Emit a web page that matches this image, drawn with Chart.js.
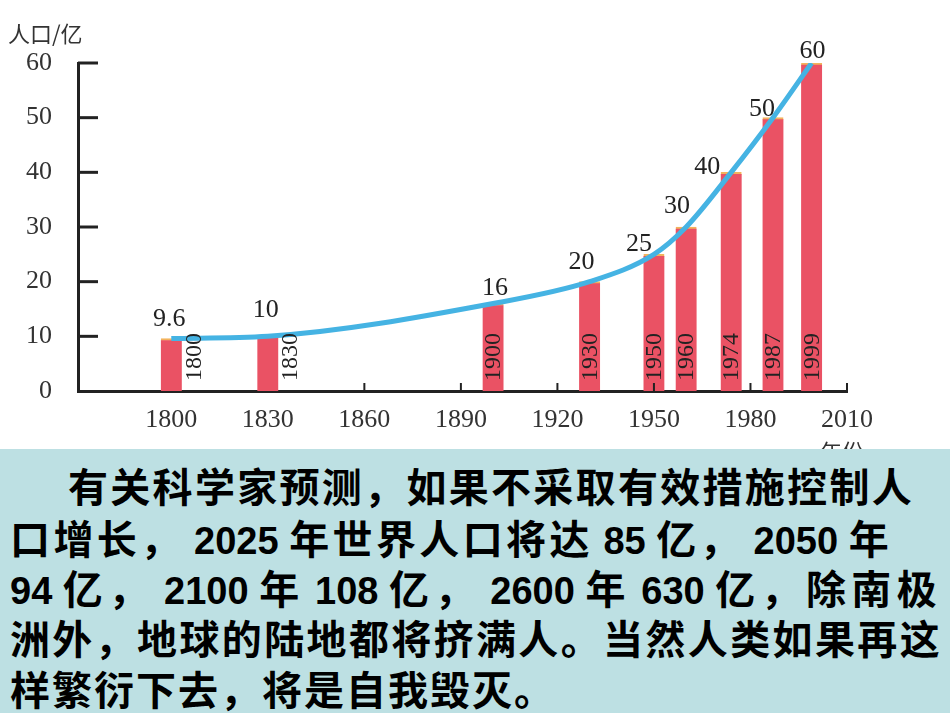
<!DOCTYPE html>
<html>
<head>
<meta charset="utf-8">
<title>世界人口增长</title>
<script src="https://cdn.jsdelivr.net/npm/chart.js@4/dist/chart.umd.min.js"></script>
<style>
    body { margin: 0; background: #fff; }
    #wrap { position: relative; width: 950px; height: 713px; overflow: hidden; }
    #popChart { position: absolute; left: 0; top: 0; }
    #note { position: absolute; left: 0; top: 449px; width: 950px; height: 264px; background: #bde0e3; }
    .line {
        position: absolute; left: 10px; white-space: pre; color: #000;
        font-family: "Noto Sans CJK SC", sans-serif; font-size: 40px; font-weight: bold; line-height: 50px;
    }
    .num { font-family: "Liberation Sans Narrow", "Liberation Sans", sans-serif; font-weight: bold; font-size: 38px; }
</style>
</head>
<body>
<div id="wrap">
    <canvas id="popChart" width="950" height="450"></canvas>
    <div id="note">
        <div class="line" style="top:11px;left:68px" data-right="914">有关科学家预测，如果不采取有效措施控制人</div>
        <div class="line" style="top:63px" data-right="892">口增长，<span class="num"> 2025 </span>年世界人口将达<span class="num"> 85 </span>亿，<span class="num"> 2050 </span>年</div>
        <div class="line" style="top:113px" data-right="942"><span class="num">94 </span>亿，<span class="num"> 2100 </span>年<span class="num"> 108 </span>亿，<span class="num"> 2600 </span>年<span class="num"> 630 </span>亿，除南极</div>
        <div class="line" style="top:163px" data-right="942">洲外，地球的陆地都将挤满人。当然人类如果再这</div>
        <div class="line" style="top:214px" data-right="556">样繁衍下去，将是自我毁灭。</div>
    </div>
</div>
<script>
// data
const years = [1800, 1830, 1900, 1930, 1950, 1960, 1974, 1987, 1999];
const population = [9.6, 10, 16, 20, 25, 30, 40, 50, 60];   // 亿
const xTickLabels = [1800, 1830, 1860, 1890, 1920, 1950, 1980, 2010];
const yTickLabels = [0, 10, 20, 30, 40, 50, 60];

document.addEventListener("DOMContentLoaded", function () {
    // ===============================
    // text block: spread the Chinese characters so each line fills its width
    // ===============================
    document.querySelectorAll('#note .line').forEach(el => {
        const left = parseFloat(el.style.left || 10);
        const target = parseFloat(el.dataset.right);
        const w = el.getBoundingClientRect().width;
        let n = 0;
        el.childNodes.forEach(node => { if (node.nodeType === 3) n += node.textContent.length; });
        el.style.letterSpacing = ((target - left - w) / n) + 'px';
        el.querySelectorAll('.num').forEach(s => { s.style.letterSpacing = '0px'; });
    });

    // ===============================
    // extra drawing: inner ticks, value labels, year labels
    // ===============================
    const serif = '"Liberation Serif", "DejaVu Serif", serif';
    const labelNudge = [[-2, -19], [-2, -26], [2, -15], [-8, -19], [-15, -10], [-9, -21], [-24, -5], [-11, -8], [1, -12]];

    const decorations = {
        id: 'decorations',
        afterDraw(chart) {
            const c = chart.ctx;
            const area = chart.chartArea;
            const xs = chart.scales.x, ys = chart.scales.y;
            c.save();
            c.strokeStyle = '#222';

            // y ticks pointing into the plot
            c.lineWidth = 3;
            yTickLabels.forEach(v => {
                if (v === 0) return;
                const y = ys.getPixelForValue(v);
                c.beginPath(); c.moveTo(area.left, y); c.lineTo(area.left + 20, y); c.stroke();
            });
            // x ticks pointing up
            c.lineWidth = 2;
            xTickLabels.slice(2).forEach(v => {
                const x = xs.getPixelForValue(v);
                c.beginPath(); c.moveTo(x, area.bottom); c.lineTo(x, area.bottom - 8); c.stroke();
            });

            // value labels above bars
            c.fillStyle = '#222';
            c.font = '26px ' + serif;
            c.textAlign = 'center';
            c.textBaseline = 'middle';
            const bars = chart.getDatasetMeta(1).data;
            bars.forEach((bar, i) => {
                const d = labelNudge[i] || [0, -15];
                c.fillText(String(population[i]), bar.x + d[0], bar.y + d[1]);
            });

            // year written up the bar
            c.font = '24px ' + serif;
            c.textAlign = 'left';
            bars.forEach((bar, i) => {
                const h = bar.base - bar.y;
                const x = h < 60 ? bar.x + 22 : bar.x;
                c.save();
                c.translate(x, area.bottom - 10);
                c.rotate(-Math.PI / 2);
                c.fillText(String(years[i]), 0, 1);
                c.restore();
            });

            // axis titles
            c.font = '22px "Noto Sans CJK SC", sans-serif';
            c.fillStyle = '#333';
            c.textBaseline = 'middle';
            c.fillText('人口/亿', 8, 34);
            c.textAlign = 'center';
            c.textBaseline = 'top';
            c.fillText('年份', xs.getPixelForValue(2010) - 5, 441);
            c.restore();
        }
    };

    // ===============================
    // Chart.js Configuration
    // ===============================
    const ctx = document.getElementById('popChart');
    const points = years.map((yr, i) => ({ x: yr, y: population[i] }));

    new Chart(ctx.getContext('2d'), {
        type: 'bar',
        data: {
            datasets: [{
                type: 'line',
                label: '人口',
                data: points,
                borderColor: '#45b3e3',
                borderWidth: 5,
                pointRadius: 0,
                cubicInterpolationMode: 'monotone',
                order: 0
            }, {
                type: 'bar',
                label: '人口',
                data: points,
                backgroundColor: '#ea5264',
                borderColor: '#f3b35c',
                borderWidth: { top: 2, left: 0, right: 0, bottom: 0 },
                borderSkipped: 'bottom',
                barThickness: 21,
                order: 1
            }]
        },
        options: {
            responsive: false,
            animation: false,
            layout: { padding: { top: 63, right: 103, left: 0, bottom: 0 } },
            plugins: { legend: { display: false }, tooltip: { enabled: false } },
            scales: {
                x: {
                    type: 'linear',
                    min: 1771,
                    max: 2010,
                    offset: false,
                    grid: { display: false, drawTicks: false, offset: false },
                    border: { display: true, color: '#222', width: 3 },
                    afterBuildTicks: s => { s.ticks = xTickLabels.map(v => ({ value: v })); },
                    afterFit: s => { s.height = 59; },
                    ticks: {
                        padding: 14,
                        maxRotation: 0,
                        autoSkip: false,
                        color: '#333',
                        font: { family: serif, size: 26 },
                        callback: v => String(v)
                    }
                },
                y: {
                    min: 0,
                    max: 60,
                    grid: { display: false, drawTicks: false },
                    border: { display: true, color: '#222', width: 3 },
                    afterBuildTicks: s => { s.ticks = yTickLabels.map(v => ({ value: v })); },
                    afterFit: s => { s.width = 78; },
                    ticks: {
                        padding: 26,
                        color: '#333',
                        font: { family: serif, size: 26 }
                    }
                }
            }
        },
        plugins: [decorations]
    });
});
</script>
</body>
</html>
